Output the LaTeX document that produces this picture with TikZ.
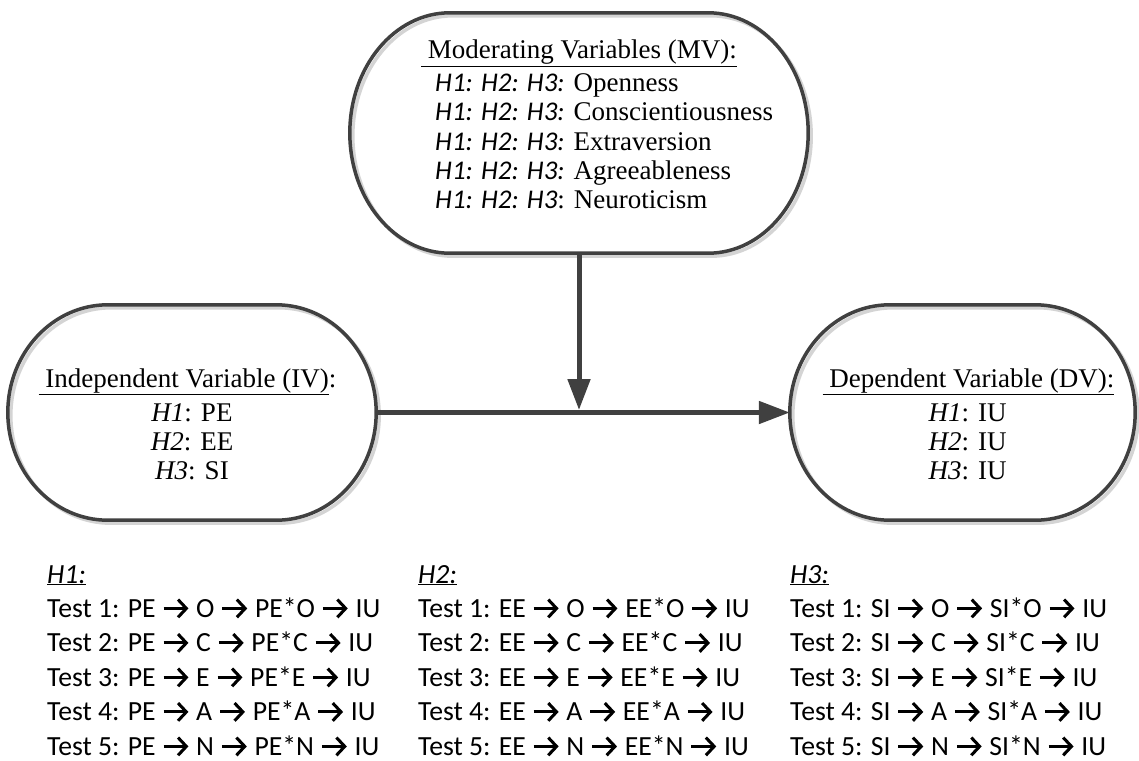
\documentclass[tikz,border=0pt]{standalone}
\usepackage{fontspec}
\setmainfont{Liberation Serif}
\newfontfamily\calfont{Carlito}
\usetikzlibrary{arrows.meta,calc}
\definecolor{ink}{HTML}{404040}
\definecolor{shade}{HTML}{D4D4D4}
\newcommand\rarr{\tikz[baseline=0pt]\draw[line width=0.11em,-{Straight Barb[length=0.3em,width=0.64em,line width=0.11em]}] (0,0.31em)--(0.9em,0.31em);}
\newcommand\stadium[2]{%
  \draw[#2] let \p1=(#1.north), \p2=(#1.south), \n1={(\y1-\y2)/2} in
    ([xshift=100pt]#1.north west) -- ([xshift=-100pt]#1.north east)
    arc[start angle=90,end angle=-90,x radius=100pt,y radius=\n1]
    -- ([xshift=100pt]#1.south west)
    arc[start angle=270,end angle=90,x radius=100pt,y radius=\n1] -- cycle;}
\tikzset{
  boxnode/.style={draw=none,inner sep=0pt,shape=rectangle},
  boxline/.style={draw=ink,line width=3.5pt},
  shadowline/.style={draw=shade,line width=3.5pt},
  conn/.style={draw=ink,line width=5pt,-{Triangle[length=31pt,width=22pt]}},
  serif/.style={font=\fontsize{27}{30}\selectfont,inner sep=0pt},
  list/.style={font=\calfont\fontsize{27.7}{34}\selectfont,inner sep=0pt,anchor=base west}
}
\begin{document}
\begin{tikzpicture}[x=1pt,y=-1pt]
\useasboundingbox[fill=white] (0,0) rectangle (1139,760);
% box anchors
\node[boxnode,minimum width=458pt,minimum height=240pt] (mv) at (579,133) {};
\node[boxnode,minimum width=368pt,minimum height=215pt] (iv) at (192,412.5) {};
\node[boxnode,minimum width=345pt,minimum height=215pt] (dv) at (962.5,412.5) {};
% shadows
\begin{scope}[transform canvas={shift={(3pt,-3pt)}}]
  \stadium{mv}{shadowline}
  \stadium{iv}{shadowline}
  \stadium{dv}{shadowline}
\end{scope}
\stadium{mv}{boxline}
\stadium{iv}{boxline}
\stadium{dv}{boxline}
% moderating text
\node[serif,anchor=base west] (mvh) at (421,59) {\underline{\ Moderating Variables (MV):}};
\node[serif,anchor=base west] (mv1) at (435,91) {{\calfont\itshape H1: H2: H3:} Openness};
\node[serif,anchor=base west] (mv2) at (435,120) {{\calfont\itshape H1: H2: H3:} Conscientiousness};
\node[serif,anchor=base west] (mv3) at (435,150) {{\calfont\itshape H1: H2: H3:} Extraversion};
\node[serif,anchor=base west] (mv4) at (435,179) {{\calfont\itshape H1: H2: H3:} Agreeableness};
\node[serif,anchor=base west] (mv5) at (435,208) {{\calfont\itshape H1: H2: H3}: Neuroticism};
% independent
\node[serif,anchor=base] (ivh) at (187.5,387) {\underline{\ Independent Variable (IV)}:};
\node[serif,anchor=base] (iv1) at (192,421) {\textit{H1}: PE};
\node[serif,anchor=base] (iv2) at (192,450) {\textit{H2}: EE};
\node[serif,anchor=base] (iv3) at (192,479) {\textit{H3}: SI};
% dependent
\node[serif,anchor=base] (dvh) at (968.5,387) {\underline{\ Dependent Variable (DV):}};
\node[serif,anchor=base] (dv1) at (967.5,421) {\textit{H1}: IU};
\node[serif,anchor=base] (dv2) at (967.5,450) {\textit{H2}: IU};
\node[serif,anchor=base] (dv3) at (967.5,479) {\textit{H3}: IU};
% connectors
\coordinate (join) at (mv.south |- iv.east);
\draw[conn] (iv.east) -- (dv.west);
\draw[conn,shorten >=2.5pt] (mv.south) -- (join);
% test lists
\foreach \col/\xx/\v in {1/47/PE,2/418/EE,3/790/SI}{
  \node[list] (h\col) at (\xx,583) {\underline{\itshape H\col:}};
  \foreach \t/\l [evaluate=\t as \yy using {617+34.5*(\t-1)}] in {1/O,2/C,3/E,4/A,5/N}{
    \node[list] (h\col t\t) at (\xx,\yy) {Test \t: \v{} \rarr{} \l{} \rarr{} \v*\l{} \rarr{} IU};
  }
}
\end{tikzpicture}
\end{document}
